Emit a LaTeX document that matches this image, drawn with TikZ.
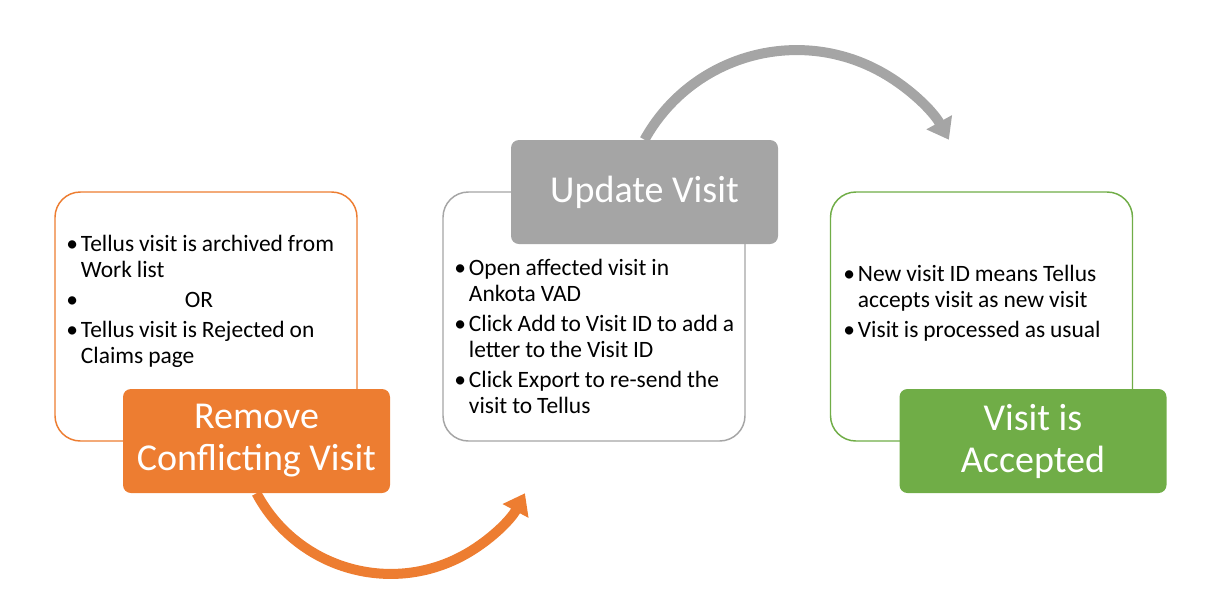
\documentclass[tikz,border=0pt]{standalone}
\usepackage{fontspec}
\setmainfont{Carlito}
\usetikzlibrary{arrows.meta}
\definecolor{accorange}{HTML}{ED7D31}
\definecolor{accgray}{HTML}{A5A5A5}
\definecolor{accgreen}{HTML}{70AD47}
\newcommand{\bitem}[1]{\par\hangindent=11pt\hangafter=1\noindent\makebox[11pt][l]{\textbullet}#1}
\tikzset{
    outbox/.style={draw=#1, line width=1.1pt, rounded corners=19pt, fill=white,
        minimum width=226.5pt, minimum height=186.75pt, inner sep=0pt},
    headbox/.style={fill=#1, rounded corners=6pt, text=white, align=center,
        font=\fontsize{28.5}{31.5}\selectfont, minimum width=200.25pt, minimum height=78pt, inner sep=0pt},
    bullets/.style={anchor=north west, inner sep=0pt, text width=215pt,
        font=\fontsize{17.6}{19.5}\selectfont},
    bendarrow/.style={draw=#1, line width=7.5pt, -{Triangle[width=21pt,length=15pt]}}
}
\begin{document}
\begin{tikzpicture}[x=0.75pt, y=-0.75pt]
            \useasboundingbox (0,0) rectangle (1222,597);
            % left step
            \node[outbox=accorange] (rmvbox) at (206,316.5) {};
            \node[bullets] (rmvlist) at (66,221) {\raggedright\spaceskip=0.21em\setlength{\parskip}{3pt}%
                \bitem{Tellus visit is archived from\newline Work list}
                \bitem{\hspace*{78pt}OR}
                \bitem{Tellus visit is Rejected on\newline Claims page}\par};
            \node[headbox=accorange] (rmv) at (256.5,441) {Remove\\Conflicting Visit};
            % middle step
            \node[outbox=accgray] (updbox) at (594,316.5) {};
            \node[bullets] (updlist) at (454,245) {\raggedright\spaceskip=0.21em\setlength{\parskip}{3pt}%
                \bitem{Open affected visit in\newline Ankota VAD}
                \bitem{Click Add to Visit ID to add a\newline letter to the Visit ID}
                \bitem{Click Export to re-send the\newline visit to Tellus}\par};
            \node[headbox=accgray] (upd) at (644.5,192) {Update Visit};
            % right step
            \node[outbox=accgreen] (accbox) at (981.5,316.5) {};
            \node[bullets] (acclist) at (843,251) {\raggedright\spaceskip=0.21em\setlength{\parskip}{3pt}%
                \bitem{New visit ID means Tellus\newline accepts visit as new visit}
                \bitem{Visit is processed as usual}\par};
            \node[headbox=accgreen] (acc) at (1033,441) {Visit is\\Accepted};
            % arrows
            \draw[bendarrow=accorange] (rmv.south) arc[start angle=208, end angle=332, radius=114pt];
            \draw[bendarrow=accgray] (upd.north) arc[start angle=151, end angle=29, radius=130.5pt];
\end{tikzpicture}
\end{document}
